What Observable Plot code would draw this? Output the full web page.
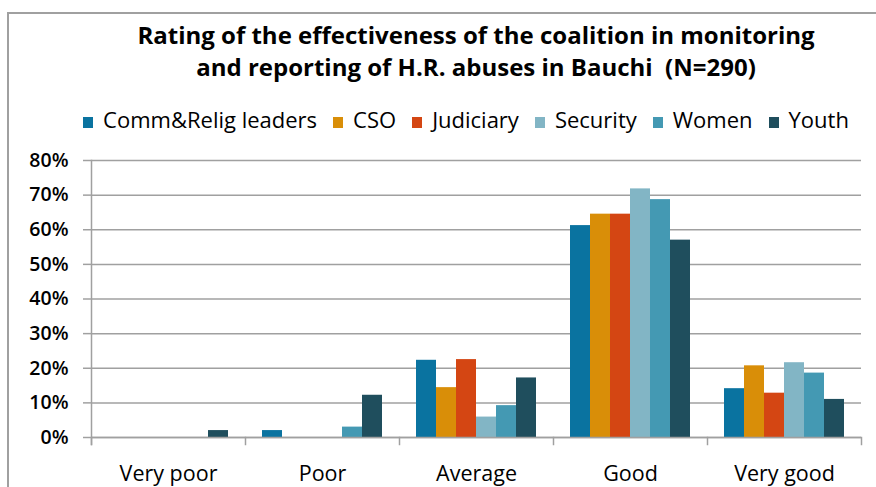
<!DOCTYPE html>
<html>
<head>
<meta charset="utf-8">
<script src="https://cdn.jsdelivr.net/npm/d3@7"></script>
<script src="https://cdn.jsdelivr.net/npm/@observablehq/plot@0.6"></script>
<style>
  html, body { margin: 0; padding: 0; background: #fff; }
  #wrap { position: relative; width: 876px; height: 487px; overflow: hidden; background: #fff; font-family: "Open Sans", Lato, sans-serif; color: #000; }
  #border { position: absolute; left: 7px; top: 12px; width: 900px; height: 520px; border-top: 2px solid #a0a0a0; border-left: 2px solid #a0a0a0; }
  #title { position: absolute; left: 38px; top: 18.6px; width: 876px; text-align: center; font-weight: bold; font-size: 24px; line-height: 32.4px; white-space: nowrap; }
  #legend { position: absolute; left: 0; top: 106.2px; width: 876px; display: flex; justify-content: center; gap: 16px; font-size: 22px; line-height: 26px; white-space: nowrap; padding-left: 56px; box-sizing: border-box; }
  .item { display: inline-block; }
  .sw { display: inline-block; width: 10px; height: 11px; margin-right: 10px; vertical-align: baseline; }
  #chart { position: absolute; left: 0; top: 140px; }
</style>
</head>
<body>
<div id="wrap">
  <div id="border"></div>
  <div id="title">Rating of the effectiveness of the coalition in monitoring<br>and reporting of H.R. abuses in Bauchi&nbsp;&nbsp;(N=290)</div>
  <div id="legend"></div>
  <div id="chart"></div>
</div>
<script>
const categories = ["Very poor", "Poor", "Average", "Good", "Very good"];
const series = ["Comm&Relig leaders", "CSO", "Judiciary", "Security", "Women", "Youth"];
const colors = ["#0a73a0", "#d98e08", "#d44613", "#82b5c5", "#4499b3", "#1f4e5d"];

// values in percent, one per category
const commRelig = [0, 2.0, 22.3, 61.2, 14.1];
const cso       = [0, 0,   14.4, 64.5, 20.7];
const judiciary = [0, 0,   22.5, 64.5, 12.8];
const security  = [0, 0,    5.9, 71.8, 21.6];
const women     = [0, 3.0,  9.2, 68.7, 18.6];
const youth     = [2.0, 12.2, 17.2, 57.0, 11.0];

const yTicks = [0, 10, 20, 30, 40, 50, 60, 70, 80];

const valuesBySeries = [commRelig, cso, judiciary, security, women, youth];
const data = [];
categories.forEach((cat, i) => {
  series.forEach((s, j) => {
    data.push({cat, series: s, value: valuesBySeries[j][i]});
  });
});

// legend
const legend = document.getElementById("legend");
series.forEach((s, j) => {
  const item = document.createElement("span");
  item.className = "item";
  const sw = document.createElement("span");
  sw.className = "sw";
  sw.style.background = colors[j];
  item.appendChild(sw);
  item.appendChild(document.createTextNode(s));
  legend.appendChild(item);
});

const gridColor = "#a0a0a0";
const chart = Plot.plot({
  width: 876,
  height: 347,
  marginTop: 20,
  marginBottom: 50,
  marginLeft: 89,
  marginRight: 14,
  style: {fontFamily: "'Open Sans', Lato, sans-serif", color: "#000", background: "transparent", overflow: "visible"},
  fx: {domain: categories, padding: 0, label: null},
  x: {domain: series, paddingInner: 0, paddingOuter: 0.74, axis: null},
  y: {domain: [0, 80], label: null},
  color: {domain: series, range: colors},
  marks: [
    Plot.gridY(yTicks, {stroke: gridColor, strokeOpacity: 1, strokeWidth: 1.5}),
    Plot.barY(data, {fx: "cat", x: "series", y: "value", fill: "series"}),
    Plot.ruleY([0], {stroke: gridColor, strokeWidth: 1.5}),
    Plot.axisY(yTicks, {tickSize: 8, tickPadding: 15, stroke: gridColor, strokeWidth: 1.5, tickFormat: d => d + "%", fontSize: 19.5, fontWeight: 600, label: null, fill: "#000"}),
    Plot.axisFx({anchor: "bottom", tickSize: 0, tickPadding: 28, fontSize: 21.5, label: null, fill: "#000"}),
    Plot.frame({anchor: "left", stroke: gridColor, strokeWidth: 1.5, insetBottom: -7, facetAnchor: "left"}),
    Plot.frame({anchor: "left", stroke: gridColor, strokeWidth: 1.5, insetTop: 277, insetBottom: -7}),
    Plot.frame({anchor: "right", stroke: gridColor, strokeWidth: 1.5, insetTop: 277, insetBottom: -7, facetAnchor: "right"})
  ]
});
document.getElementById("chart").appendChild(chart);
</script>
</body>
</html>
